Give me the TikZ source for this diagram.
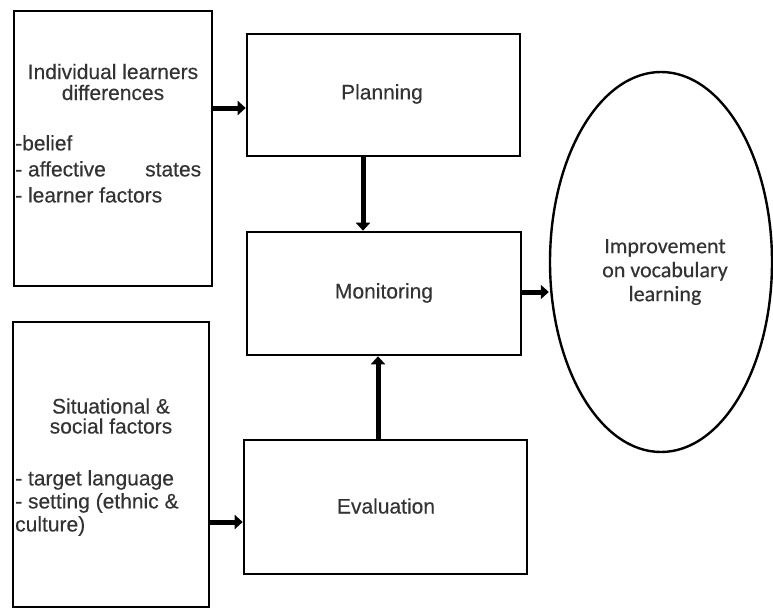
\documentclass[tikz,border=0pt]{standalone}
\usepackage{fontspec}
\setmainfont{Liberation Sans}[FakeBold=0.35]
\newfontfamily\calib{Carlito}[FakeBold=0.35]
\usetikzlibrary{arrows.meta,shapes.geometric}
\definecolor{txt}{HTML}{333333}
\begin{document}
\begin{tikzpicture}[x=1pt,y=-1pt,
  boxx/.style={draw=black,line width=2.6pt,rectangle,inner sep=0pt},
  lbl/.style={text=txt,font=\fontsize{21}{24}\selectfont,inner sep=0pt},
  arr/.style={line width=5pt,-{Triangle[length=8pt,width=14pt]}}]
\path[use as bounding box] (0,0) rectangle (773,610);
% boxes
\node[boxx,minimum width=198pt,minimum height=275pt] (ind) at (113,148.5) {};
\node[boxx,minimum width=196pt,minimum height=285pt] (sit) at (111,464.5) {};
\node[boxx,minimum width=273pt,minimum height=122pt] (plan) at (383.5,95) {};
\node[boxx,minimum width=274pt,minimum height=123pt] (mon) at (384,293.5) {};
\node[boxx,minimum width=283pt,minimum height=134pt] (eval) at (385.5,507) {};
\node[draw=black,line width=2.4pt,ellipse,minimum width=222pt,minimum height=380pt,inner sep=0pt] (imp) at (661,262) {};
% texts
\node[lbl,align=center,font=\fontsize{21}{21}\selectfont] (indt) at (113,82) {Individual learners\\differences};
\node[lbl,align=left,anchor=north west,font=\fontsize{21}{26}\selectfont] (indl) at (15,135) {-belief\\\makebox[186pt][l]{- affective\hfill states}\\- learner factors};
\node[lbl,align=center,font=\fontsize{21}{20}\selectfont] (sitt) at (111,416) {Situational \&\\social factors};
\node[lbl,align=left,anchor=north west,font=\fontsize{21}{23}\selectfont] (sitl) at (15,470) {- target language\\- setting (ethnic \&\\culture)};
\node[lbl] (plant) at (382,94) {Planning};
\node[lbl] (mont) at (384,293) {Monitoring};
\node[lbl] (evalt) at (386,506) {Evaluation};
\node[lbl,align=center,font=\calib\fontsize{22}{24}\selectfont] (impt) at (665,272) {Improvement\\on vocabulary\\learning};
% arrows
\draw[arr] (ind.east |- 0,108) -- (plan.west |- 0,108);
\draw[arr] (plan.south -| 363,0) -- (mon.north -| 363,0);
\draw[arr] (eval.north -| 378,0) -- (mon.south -| 378,0);
\draw[arr] (sit.east |- 0,522) -- (eval.west |- 0,522);
\draw[arr] (mon.east |- 0,292) -- (imp.west |- 0,292);
\end{tikzpicture}
\end{document}
